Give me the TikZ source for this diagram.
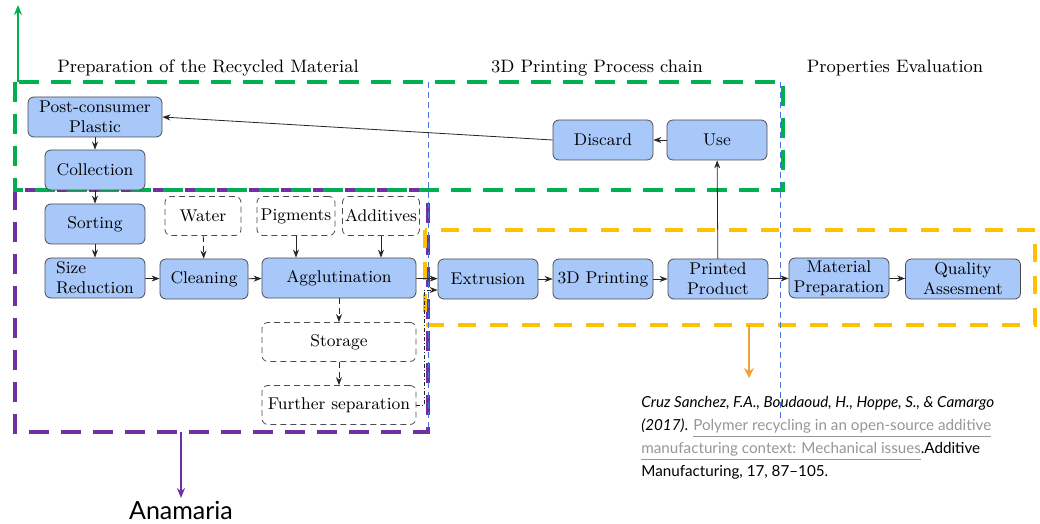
\documentclass[tikz,border=0pt]{standalone}
\usepackage{fontspec}
\newfontfamily\gillfont[Ligatures=TeX]{Lato}
\usetikzlibrary{arrows.meta}
\definecolor{boxblue}{RGB}{168,200,250}
\definecolor{grpgreen}{RGB}{0,176,80}
\definecolor{grppurple}{RGB}{112,48,160}
\definecolor{grporange}{RGB}{255,192,0}
\definecolor{arrorange}{RGB}{237,161,60}
\definecolor{sepblue}{RGB}{68,114,220}
\definecolor{linkgray}{RGB}{150,150,150}
\begin{document}
\begin{tikzpicture}
[x=0.5pt,y=-0.5pt,
every node/.style={font=\fontsize{8.5}{10}\selectfont},
proc/.style={draw=black!70,fill=boxblue,rounded corners=3pt,minimum height=20pt,minimum width=50pt,align=center,inner sep=1pt},
extra/.style={draw=black!70,densely dashed,rounded corners=3pt,minimum height=19.5pt,inner sep=1pt},
flow/.style={-{Stealth[length=4pt,width=3pt]},black!85},
dflow/.style={flow,densely dashed},
group/.style={line width=2pt,dash pattern=on 10pt off 6pt},
phase/.style={font=\fontsize{9}{10}\selectfont},
sep/.style={sepblue,densely dashed,line width=0.5pt}]
\useasboundingbox (0,0) rectangle (1040,524);
\clip (0,0) rectangle (1040,524);
% group frames
\draw[group,grppurple] (15,190) rectangle (428,432);
\draw[group,grpgreen] (15,82) rectangle (783,190);
\draw[group,grporange,dash pattern=on 9pt off 7pt] (425,230) rectangle (1035,325);
\draw[sep] (428,82) -- (428,432);
\draw[sep] (780,82) -- (780,420);
% phase titles
\node[phase] (t1) at (208,68) {Preparation of the Recycled Material};
\node[phase] (t2) at (597,68) {3D Printing Process chain};
\node[phase] (t3) at (895,68) {Properties Evaluation};
% process steps
\node[proc,minimum width=67pt] (post) at (95,117) {Post-consumer\\Plastic};
\node[proc] (collect) at (95,170) {Collection};
\node[proc] (sort) at (95,224) {Sorting};
\node[proc,align=left] (size) at (95,278) {Size\\Reduction};
\node[extra,minimum width=38pt] (water) at (203,216) {Water};
\node[proc,minimum width=44pt] (clean) at (204,279) {Cleaning};
\node[extra,minimum width=39pt] (pigm) at (296,216) {Pigments};
\node[extra,minimum width=38.5pt] (addit) at (381,216) {Additives};
\node[proc,minimum width=77pt] (agglu) at (339,278) {Agglutination};
\node[extra,minimum width=77pt] (store) at (339,342) {Storage};
\node[extra,minimum width=77pt] (further) at (339,405) {Further separation};
\node[proc] (extru) at (488,279) {Extrusion};
\node[proc] (print) at (603,279) {3D Printing};
\node[proc] (product) at (718,279) {Printed\\Product};
\node[proc] (matprep) at (839,278) {Material\\Preparation};
\node[proc,minimum width=57.5pt] (quality) at (963,279) {Quality\\Assesment};
\node[proc] (discard) at (603,140) {Discard};
\node[proc] (use) at (717,140) {Use};
% flows
\draw[flow] (post) -- (collect);
\draw[flow] (collect) -- (sort);
\draw[flow] (sort) -- (size);
\draw[flow] (size) -- (clean);
\draw[flow] (clean) -- (agglu);
\draw[flow] (agglu) -- (extru);
\draw[flow] (extru) -- (print);
\draw[flow] (print) -- (product);
\draw[flow] (product) -- (matprep);
\draw[flow] (matprep) -- (quality);
\draw[flow] (product) -- (use);
\draw[flow] (use) -- (discard);
\draw[flow] (discard.west) -- (post.east);
\draw[dflow] (water) -- (clean);
\draw[flow] (pigm) -- (pigm |- agglu.north);
\draw[flow] (addit) -- (addit |- agglu.north);
\draw[dflow] (agglu) -- (store);
\draw[dflow] (store) -- (further);
\draw[flow,dash pattern=on 2pt off 1pt on 0.5pt off 1pt] (further.east) -- ++(8,0) |- ([yshift=-5.5pt]extru.west);
% pointers
\coordinate (gtop) at (18,5);
\coordinate (gbot) at (18,82);
\coordinate (pbot) at (181,432);
\coordinate (pend) at (181,498);
\coordinate (obot) at (749,325);
\coordinate (oend) at (749,378);
\draw[grpgreen,line width=0.8pt,-{Stealth[length=5pt,width=4pt]}] (gbot) -- (gtop);
\draw[grppurple,line width=0.8pt,-{Stealth[length=5pt,width=4pt]}] (pbot) -- (pend);
\draw[arrorange,line width=1.2pt,-{Stealth[length=5pt,width=5pt]}] (obot) -- (oend);
\node[font=\gillfont\fontsize{12.5}{14}\selectfont,anchor=base] (author) at (181,519) {Anamaria};
\node[anchor=north west,align=left,inner sep=0pt,font=\gillfont\fontsize{7.6}{11.5}\selectfont] (cite) at (641,396)
 {\textit{Cruz Sanchez, F.A., Boudaoud, H., Hoppe, S., \& Camargo}\\
  \textit{(2017)}. \textcolor{linkgray}{\underline{Polymer recycling in an open-source additive}}\\
  \textcolor{linkgray}{\underline{manufacturing context: Mechanical issues}}.Additive\\
  Manufacturing, 17, 87–105.};
\end{tikzpicture}
\end{document}
